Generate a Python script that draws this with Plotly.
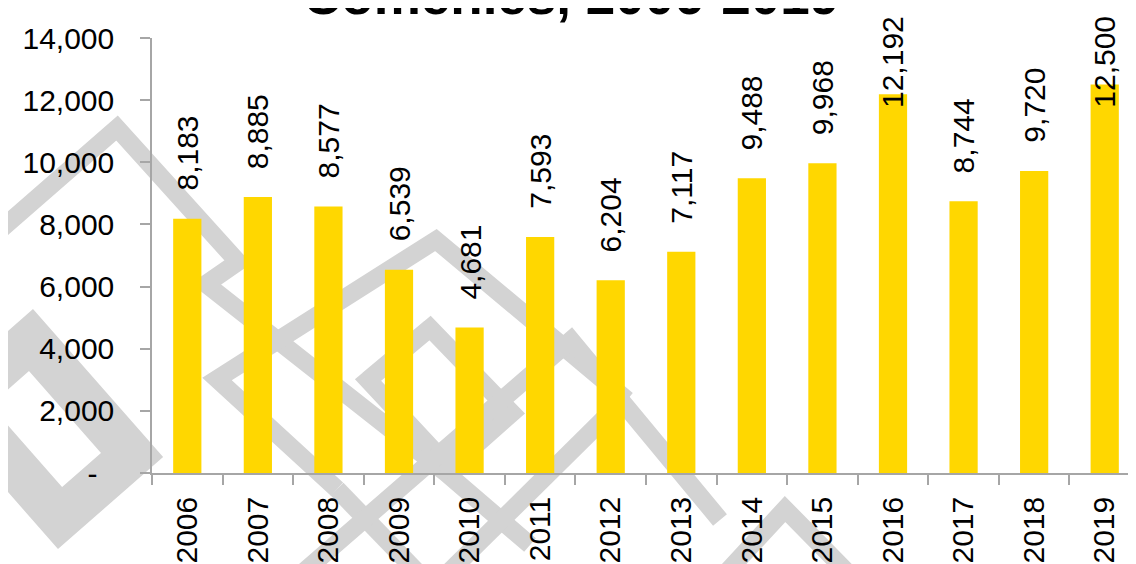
import plotly.graph_objects as go

# ---------------- data ----------------
years = ["2006", "2007", "2008", "2009", "2010", "2011", "2012",
         "2013", "2014", "2015", "2016", "2017", "2018", "2019"]
values = [8183, 8885, 8577, 6539, 4681, 7593, 6204,
          7117, 9488, 9968, 12192, 8744, 9720, 12500]
y_tickvals = [0, 2000, 4000, 6000, 8000, 10000, 12000, 14000]
y_ticktext = ["-\u2007", "2,000", "4,000", "6,000", "8,000", "10,000", "12,000", "14,000"]
title_text = "Comenies, 2006-2019"

# ---------------- layout constants ----------------
W, H = 1136, 564
OFF = 8                      # page body margin
ML, MR, MT, MB = 144, 4, 30, 99
PW, PH = W - ML - MR, H - MT - MB
FONT = "Century Gothic, Liberation Sans, Arial, sans-serif"
YMAX = 14000


def px2paper(sx, sy):
    """screen pixel -> paper coordinates"""
    x = sx - OFF
    y = sy - OFF
    return (x - ML) / PW, 1 - (y - MT) / PH


fig = go.Figure()
fig.add_trace(go.Bar(
    x=years, y=values,
    marker=dict(color="#FFD700", line=dict(width=0)),
    hoverinfo="skip",
))

# data labels (rotated, above bars, kept inside the chart area near the top)
label_gap = 26
label_font = 30
cap_top = 14
for i, v in enumerate(values):
    txt = f"{v:,}"
    bar_top_px = OFF + MT + PH * (1 - v / YMAX)
    est_len = len(txt) * 0.53 * label_font
    if bar_top_px - label_gap - est_len < cap_top:
        fig.add_annotation(x=i, xref="x", y=px2paper(0, cap_top)[1], yref="paper",
                           text=txt, textangle=-90, showarrow=False,
                           yanchor="top", xanchor="center",
                           font=dict(family=FONT, size=label_font, color="#000000"))
    else:
        fig.add_annotation(x=i, xref="x", y=v, yref="y", yshift=label_gap,
                           text=txt, textangle=-90, showarrow=False,
                           yanchor="bottom", xanchor="center",
                           font=dict(family=FONT, size=label_font, color="#000000"))

# title (its upper part falls outside the picture, as in the reference)
tx, ty = px2paper(571, 27)
fig.add_annotation(x=tx, xref="paper", y=ty, yref="paper",
                   xanchor="center", yanchor="bottom",
                   text=f"<b>{title_text}</b>", showarrow=False,
                   font=dict(family=FONT, size=53, color="#000000"))

# background watermark (decorative grey bands), screen pixel coordinates
wm = [
    ([(0, 230), (117, 128), (238, 262), (206, 284), (446, 473), (530, 545)], 18),
    ([(337, 489), (217, 379), (436, 240), (627, 400)], 18),
    ([(420, 575), (337, 489)], 18),
    ([(-41, 403), (31, 340), (132, 455), (60, 518), (-41, 403), (31, 340)], 44),
    ([(430, 328), (368, 380), (450, 468), (512, 413), (430, 328), (368, 380)], 18),
    ([(300, 575), (571, 340), (720, 520)], 18),
    ([(724, 575), (785, 509), (850, 575)], 18),
    ([(446, 575), (625, 398)], 18),
]
for pts, w in wm:
    path = ""
    for k, (sx, sy) in enumerate(pts):
        xx, yy = px2paper(sx, sy)
        path += ("M" if k == 0 else "L") + f"{xx:.4f},{yy:.4f} "
    fig.add_shape(type="path", path=path, xref="paper", yref="paper",
                  line=dict(color="#D3D3D3", width=w), layer="below")

fig.update_layout(
    width=W, height=H,
    margin=dict(l=ML, r=MR, t=MT, b=MB, pad=0),
    paper_bgcolor="#FFFFFF", plot_bgcolor="rgba(0,0,0,0)",
    bargap=0.6, showlegend=False,
    font=dict(family=FONT, size=30, color="#000000"),
)
fig.update_xaxes(
    type="category", range=[-0.5, len(years) - 0.5], autorange=False,
    tickangle=-90, tickson="boundaries",
    ticks="outside", ticklen=10, tickcolor="#A6A6A6", tickwidth=1.5,
    showline=True, linecolor="#A6A6A6", linewidth=1.5,
    showgrid=False, ticklabelstandoff=10,
    tickfont=dict(family=FONT, size=30, color="#000000"),
)
fig.update_yaxes(
    range=[0, YMAX], tickvals=y_tickvals, ticktext=y_ticktext,
    ticks="outside", ticklen=10, tickcolor="#A6A6A6", tickwidth=1.5,
    showline=True, linecolor="#A6A6A6", linewidth=1.5,
    showgrid=False, zeroline=False, ticklabelstandoff=20,
    tickfont=dict(family=FONT, size=30, color="#000000"),
)

fig.write_html("out.html")
